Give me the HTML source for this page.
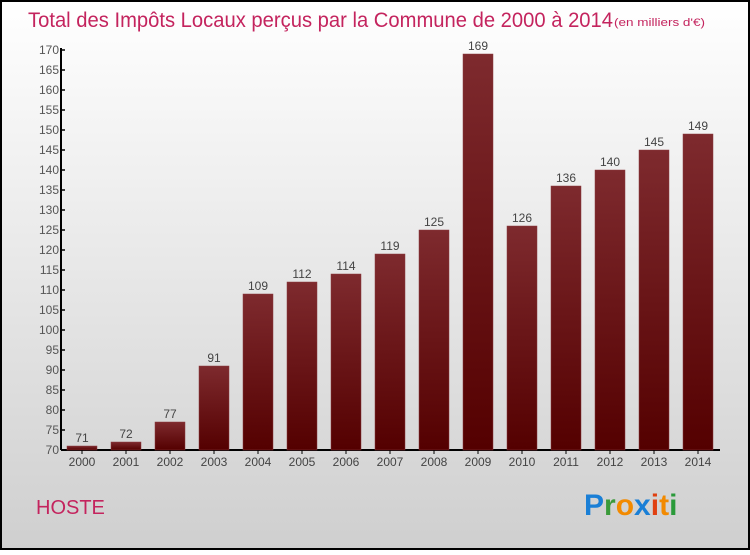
<!DOCTYPE html>
<html><head><meta charset="utf-8"><style>
body{margin:0;width:750px;height:550px;overflow:hidden;font-family:"Liberation Sans",sans-serif}
</style></head><body>
<svg width="750" height="550" viewBox="0 0 750 550" xmlns="http://www.w3.org/2000/svg">
<defs>
<linearGradient id="bg" x1="0" y1="0" x2="0" y2="1"><stop offset="0" stop-color="#ffffff"/><stop offset="1" stop-color="#cfcfcf"/></linearGradient>
<linearGradient id="bar" x1="0" y1="0" x2="0" y2="1"><stop offset="0" stop-color="#7e2a2e"/><stop offset="1" stop-color="#540000"/></linearGradient>
</defs>
<rect x="1" y="1" width="748" height="548" fill="url(#bg)" stroke="#000" stroke-width="2"/>
<text x="28" y="27" font-size="21" fill="#c4245e" textLength="585" lengthAdjust="spacingAndGlyphs">Total des Impôts Locaux perçus par la Commune de 2000 à 2014</text>
<text x="614" y="26" font-size="11" fill="#c4245e" textLength="91" lengthAdjust="spacingAndGlyphs">(en milliers d'€)</text>
<g id="yaxis"></g>
<g id="bars"></g>
<text x="36" y="514" font-size="20" fill="#c4245e">HOSTE</text>
<g font-size="30" font-weight="bold" font-family="'Liberation Sans',sans-serif">
<text x="584" y="515"><tspan fill="#1a7fd6">P</tspan><tspan fill="#3a9a3a">r</tspan><tspan fill="#f28a00">o</tspan><tspan fill="#1a7fd6">x</tspan><tspan fill="#e04010">i</tspan><tspan fill="#f28a00">t</tspan><tspan fill="#2a9a3a">i</tspan></text>
</g>
</svg>
<script>
const years=["2000","2001","2002","2003","2004","2005","2006","2007","2008","2009","2010","2011","2012","2013","2014"];
const values=[71,72,77,91,109,112,114,119,125,169,126,136,140,145,149];
const yTicks=[70,75,80,85,90,95,100,105,110,115,120,125,130,135,140,145,150,155,160,165,170];
const NS="http://www.w3.org/2000/svg";
const y0=450,yMin=70,pxPer=4,axisX=61;
function yS(v){return y0-(v-yMin)*pxPer;}
function xS(i){return 67+i*44;}
function mk(t,a,p){const e=document.createElementNS(NS,t);for(const k in a)e.setAttribute(k,a[k]);p.appendChild(e);return e;}
const ya=document.getElementById('yaxis');
mk('line',{x1:axisX,y1:yS(170)-2,x2:axisX,y2:y0,stroke:'#000','stroke-width':2},ya);
mk('line',{x1:axisX,y1:y0,x2:720,y2:y0,stroke:'#000','stroke-width':2},ya);
yTicks.forEach(v=>{
 const l=mk('line',{x1:axisX,y1:yS(v),x2:axisX+4,y2:yS(v),stroke:'#000','stroke-width':1.5},ya);
 
 
 const t=mk('text',{x:axisX-2,y:yS(v)+4,'font-size':12,fill:'#555','text-anchor':'end'},ya);
 t.textContent=v;
 
 
});
const bg=document.getElementById('bars');
years.forEach((yr,i)=>{
 const v=values[i];
 const r=mk('rect',{x:xS(i),y:yS(v),width:30,height:y0-yS(v),fill:'url(#bar)',stroke:'#8a3a3e','stroke-width':0.5},bg);
 
 
 const t=mk('text',{x:xS(i)+15,y:yS(v)-4,'font-size':12,fill:'#444','text-anchor':'middle'},bg);
 t.textContent=v;
 
 
 const tk=mk('line',{x1:xS(i)+15,y1:y0,x2:xS(i)+15,y2:y0+4,stroke:'#000'},bg);
 
 
 const xl=mk('text',{x:xS(i)+15,y:y0+16,'font-size':12,fill:'#444','text-anchor':'middle'},bg);
 xl.textContent=yr;
 
 
});
</script>
</body></html>
